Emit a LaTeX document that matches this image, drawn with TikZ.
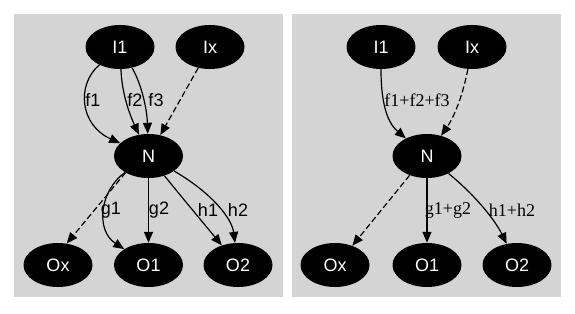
\documentclass[tikz,border=0pt]{standalone}
\usepackage{fontspec}
\setmainfont{Liberation Serif}
\setsansfont{Liberation Sans}
\usetikzlibrary{shapes.geometric}
\usetikzlibrary{arrows.meta}

\begin{document}
\begin{tikzpicture}[x=1pt,y=-1pt,
  vert/.style={ellipse,fill=black,text=white,inner sep=0pt,minimum width=69pt,minimum height=44pt,font=\sffamily\fontsize{18}{20}\selectfont},
  edge/.style={line width=1.2pt,-{Triangle[length=11pt,width=9pt]}},
  dashedge/.style={edge,dash pattern=on 6pt off 3pt},
  lbl/.style={font=\sffamily\fontsize{18}{20}\selectfont,inner sep=1pt},
  lblser/.style={font=\rmfamily\fontsize{18}{20}\selectfont,inner sep=1pt}]
\useasboundingbox (0,0) rectangle (575,313);
\fill[white] (0,0) rectangle (575,313);
\fill[black!17] (14,14) rectangle (283,297);
\fill[black!17] (292,14) rectangle (561,297);

\node[vert] (I1l) at (120,47) {I1};
\node[vert] (Ixl) at (210,47) {Ix};
\node[vert] (Nl) at (148.5,156) {N};
\node[vert] (Oxl) at (58,265) {Ox};
\node[vert] (O1l) at (148.5,265) {O1};
\node[vert] (O2l) at (238,265) {O2};

\draw[edge] (I1l) .. controls (76,85) and (80,125) .. (Nl);
\draw[edge] (I1l) .. controls (122,95) and (130,115) .. (Nl);
\draw[edge] (I1l) .. controls (142,85) and (147,110) .. (Nl);
\draw[dashedge] (Ixl) -- (Nl);
\draw[dashedge] (Nl.216) -- (Oxl.68);
\draw[edge] (Nl) .. controls (100,190) and (95,230) .. (O1l);
\draw[edge] (Nl) -- (O1l);
\draw[edge] (Nl) .. controls (180,195) and (205,225) .. (O2l);
\draw[edge] (Nl) .. controls (215,195) and (232,220) .. (O2l);

\node[lbl] (f1l) at (93,100) {f1};
\node[lbl] (f2l) at (135,100) {f2};
\node[lbl] (f3l) at (156,100) {f3};
\node[lbl] (g1l) at (111,210) {g1};
\node[lbl] (g2l) at (159,210) {g2};
\node[lbl] (h1l) at (208,210) {h1};
\node[lbl] (h2l) at (238,210) {h2};

\node[vert] (I1r) at (381,47) {I1};
\node[vert] (Ixr) at (472,47) {Ix};
\node[vert] (Nr) at (427,156) {N};
\node[vert] (Oxr) at (335,265) {Ox};
\node[vert] (O1r) at (427,265) {O1};
\node[vert] (O2r) at (517,265) {O2};

\draw[edge] (I1r) .. controls (381,110) and (390,125) .. (Nr);
\draw[dashedge] (Ixr) .. controls (462,100) and (452,120) .. (Nr);
\draw[dashedge] (Nr.228) -- (Oxr.48);
\draw[edge] (Nr) -- (O1r);
\draw[edge] (Nr) .. controls (475,195) and (495,220) .. (O2r);

\node[lblser] (fr) at (417,100) {f1+f2+f3};
\node[lblser] (gr) at (448,210) {g1+g2};
\node[lblser] (hr) at (512,210) {h1+h2};

\end{tikzpicture}
\end{document}
